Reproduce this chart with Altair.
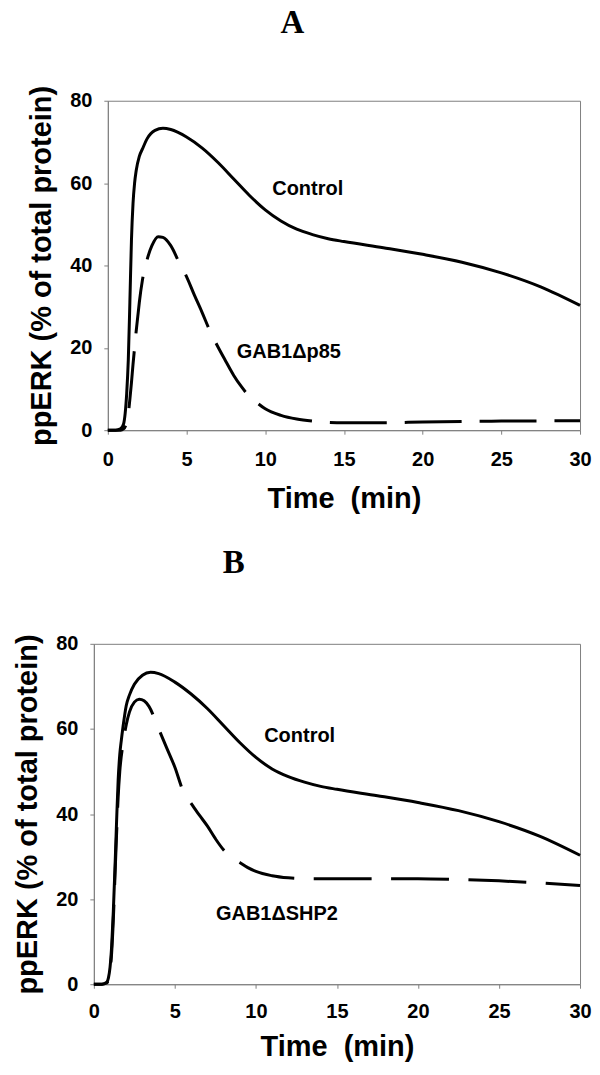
import math
import altair as alt
import pandas as pd

# ---------------- data ----------------
# Panel A
t_ctrl_a = [0, 0.5, 0.8, 1.0, 1.1, 1.2, 1.3, 1.4, 1.5, 1.6, 1.7, 1.8, 2.0, 2.2, 2.5, 3.0, 3.5,
            4.0, 5.0, 6.0, 7.0, 8.0, 9.0, 10.0, 11.0, 12.0, 13.0, 14.0, 15.0, 17.5, 20.0,
            22.5, 25.0, 27.5, 30.0]
ctrl_a = [0, 0, 0.3, 1.5, 4, 9, 17, 31, 46, 55, 60, 63, 66.5, 68.3, 70.8, 72.8, 73.3,
          73, 71.2, 68.5, 65, 61, 57, 53.5, 50.8, 48.8, 47.5, 46.5, 45.8, 44.3, 42.7,
          40.8, 38.2, 34.8, 30.3]
t_gab_a = [0, 0.8, 1.0, 1.2, 1.3, 1.4, 1.5, 1.6, 1.7, 1.8, 1.9, 2.0, 2.2, 2.5, 2.8, 3.2,
           3.5, 4.0, 4.5, 5.0, 5.5, 6.0, 6.5, 7.0, 7.5, 8.0, 8.5, 9.0, 9.5, 10.0, 11.0,
           12.0, 13.0, 14.0, 15.0, 17.5, 20.0, 25.0, 30.0]
gab_a = [0, 0, 0.3, 2, 4, 7.5, 11.5, 16, 20, 24, 27.5, 31, 36.5, 41.5, 44.8, 47,
         46.8, 44.8, 41, 37.3, 32.8, 28.5, 24, 20.2, 16.7, 13.3, 10.5, 8.2, 6.6, 5.2, 3.6,
         2.7, 2.2, 1.9, 1.8, 1.8, 2.0, 2.2, 2.3]

# Panel B
t_ctrl_b = [0, 0.5, 0.8, 0.9, 1.0, 1.1, 1.2, 1.3, 1.4, 1.5, 1.6, 1.7, 1.8, 2.0, 2.2, 2.5,
            3.0, 3.5, 4.0, 5.0, 6.0, 7.0, 8.0, 9.0, 10.0, 11.0, 12.0, 13.0, 14.0, 15.0,
            17.5, 20.0, 22.5, 25.0, 27.5, 30.0]
ctrl_b = [0, 0, 0.5, 1.5, 4, 9, 17, 27, 38, 48, 54, 57.5, 60.5, 65.5, 68, 70.5,
          72.6, 73.3, 73, 71, 68.2, 64.8, 60.8, 56.8, 53.3, 50.6, 48.8, 47.5, 46.5, 45.8,
          44.3, 42.7, 40.8, 38.2, 34.8, 30.3]
t_gab_b = [0, 0.5, 0.8, 0.9, 1.0, 1.1, 1.2, 1.3, 1.4, 1.5, 1.6, 1.8, 2.0, 2.2, 2.5, 2.8,
           3.1, 3.4, 4.0, 4.5, 5.0, 5.5, 6.0, 6.5, 7.0, 7.5, 8.0, 8.5, 9.0, 9.5, 10.0,
           11.0, 12.0, 13.0, 15.0, 17.5, 20.0, 22.5, 25.0, 27.5, 30.0]
gab_b = [0, 0, 0.3, 1, 3, 7.5, 15, 25, 35, 44, 50, 56.5, 61, 64, 66.3, 67,
         66.6, 65.3, 60, 55.5, 51, 45.5, 42.5, 39.8, 37.2, 34.2, 31.6, 29.8, 28.6, 27.4, 26.5,
         25.5, 25, 24.8, 24.8, 24.8, 24.8, 24.6, 24.3, 23.8, 23.2]

# curve labels: (time, value, text)
lab_a_t = [12.7, 11.5]
lab_a_v = [58.6, 19.1]
lab_a_s = ["Control", "GAB1\u0394p85"]
lab_b_t = [12.7, 11.3]
lab_b_v = [58.4, 16.4]
lab_b_s = ["Control", "GAB1\u0394SHP2"]

x_ticks = [0, 5, 10, 15, 20, 25, 30]
y_ticks = [0, 20, 40, 60, 80]

FONT = "Liberation Sans"
GREY = "#808080"


def dash_phase(ts, vs, w, h, t_dash_start, period):
    """Dash offset so that a dash begins where the figure shows one (time t_dash_start)."""
    s = 0.0
    for i in range(1, len(ts)):
        seg = math.hypot((ts[i] - ts[i - 1]) * w / 30.0, (vs[i] - vs[i - 1]) * h / 80.0)
        if ts[i] >= t_dash_start:
            s += seg * (t_dash_start - ts[i - 1]) / (ts[i] - ts[i - 1])
            break
        s += seg
    return round((-s) % period, 1)


def panel(tc, yc, td, yd, lt, lv, ls, letter, w, h, letter_x, letter_y, pad_x,
          dash, dash_start, lab_pad, tit_pad):
    dfc = pd.DataFrame({"t": tc, "v": yc})
    dfd = pd.DataFrame({"t": td, "v": yd})
    dfl = pd.DataFrame({"t": lt, "v": lv, "s": ls})

    xs = alt.Scale(domain=[0, 30], nice=False)
    ys = alt.Scale(domain=[0, 80], nice=False)
    xax = alt.Axis(values=x_ticks, title="Time\u00a0\u00a0(min)", grid=False,
                   labelFlush=False, labelPadding=lab_pad, titlePadding=tit_pad)
    yax = alt.Axis(values=y_ticks, title="ppERK (% of total protein)", grid=False,
                   labelPadding=12, titlePadding=13)

    off = dash_phase(td, yd, w, h, dash_start, dash[0] + dash[1])

    ctrl = alt.Chart(dfc).mark_line(color="black", strokeWidth=3, interpolate="monotone").encode(
        x=alt.X("t:Q", scale=xs, axis=xax),
        y=alt.Y("v:Q", scale=ys, axis=yax),
    )
    dashed = alt.Chart(dfd).mark_line(color="black", strokeWidth=3, interpolate="monotone",
                                      strokeDash=dash, strokeDashOffset=off).encode(
        x=alt.X("t:Q", scale=xs), y=alt.Y("v:Q", scale=ys)
    )
    labels = alt.Chart(dfl).mark_text(font=FONT, fontSize=20, fontWeight="bold",
                                      color="black", align="center", baseline="middle").encode(
        x=alt.X("t:Q", scale=xs), y=alt.Y("v:Q", scale=ys), text="s:N"
    )
    head = alt.Chart(pd.DataFrame({"s": [letter]})).mark_text(
        font="Liberation Serif", fontSize=33, fontWeight="bold", color="black",
        align="center", baseline="alphabetic").encode(
        x=alt.value(letter_x), y=alt.value(letter_y), text="s:N")
    spacer = alt.Chart(pd.DataFrame({"s": ["."]})).mark_text(
        opacity=0, align="left", fontSize=10).encode(
        x=alt.value(pad_x), y=alt.value(h / 2), text="s:N")
    return alt.layer(ctrl, dashed, labels, head, spacer).properties(width=w, height=h)


A = panel(t_ctrl_a, ctrl_a, t_gab_a, gab_a, lab_a_t, lab_a_v, lab_a_s, "A", 473, 330,
          185, -68, -80, [57, 18], 18.9, 15, 15)
B = panel(t_ctrl_b, ctrl_b, t_gab_b, gab_b, lab_b_t, lab_b_v, lab_b_s, "B", 487, 341,
          140, -71, -85, [58, 19.5], 18.37, 13, 11)

# tiny invisible cell: pushes panel A 13 px further right than panel B
shim = alt.Chart(pd.DataFrame({"a": [0]})).mark_point(opacity=0).encode(
    x=alt.value(0), y=alt.value(0)
).properties(width=13, height=1, view=alt.ViewBackground(stroke="transparent"))

rowA = alt.hconcat(shim, A, spacing=-200)

chart = alt.vconcat(rowA, B, spacing=32).properties(
    padding={"left": 0, "top": -3, "right": 0, "bottom": 0}
).configure_view(stroke=GREY, strokeWidth=1).configure_axis(
    domainColor=GREY, tickColor=GREY, tickSize=4, labelFont=FONT, labelFontSize=20,
    labelFontWeight="bold", labelColor="black", titleFont=FONT, titleFontSize=29,
    titleFontWeight="bold", titleColor="black"
)

chart.save("out.html", embed_options={"renderer": "svg", "actions": False})
